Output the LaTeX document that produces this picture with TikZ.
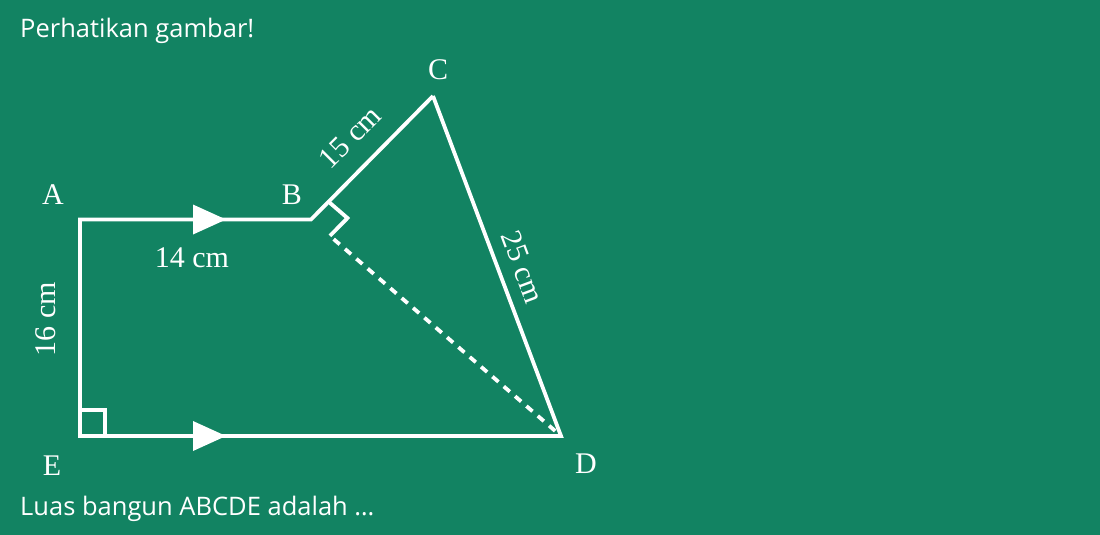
\documentclass[tikz,border=0pt]{standalone}
\usepackage{fontspec}
\setmainfont{Liberation Serif}
\newfontfamily\uisans{Open Sans}
\usetikzlibrary{calc}
\definecolor{bggreen}{RGB}{18,131,98}
\tikzset{
  edge/.style={white, line width=3.8pt, line join=miter},
  dotline/.style={white, line width=3.8pt, dash pattern=on 8pt off 7pt},
  ptlabel/.style={white, font=\fontsize{30}{30}\selectfont, anchor=base, inner sep=0pt},
  lenlabel/.style={white, font=\fontsize{30}{30}\selectfont, inner sep=0pt},
  headtext/.style={white, font=\uisans\fontsize{25.5}{25.5}\selectfont, anchor=base west, inner sep=0pt},
  arrowhead/.style={fill=white, draw=none}
}
\begin{document}
\begin{tikzpicture}[x=1pt,y=-1pt]
\fill[bggreen] (0,0) rectangle (1100,535);
\useasboundingbox (0,0) rectangle (1100,535);
% vertices
\coordinate (A) at (80,219.5);
\coordinate (B) at (311,219.5);
\coordinate (C) at (433,96);
\coordinate (D) at (561,436);
\coordinate (E) at (80,436);
% right angle at B
\coordinate (Bu) at ($(B)!25pt!(C)$);
\coordinate (Bv) at ($(B)!25pt!(D)$);
\coordinate (Bw) at ($(Bu)+(Bv)-(B)$);
% dotted diagonal
\draw[dotline] ($(Bv)!5pt!(D)$) -- (D);
% polygon
\draw[edge] (C) -- (D) -- (E) -- (A) -- (B) -- (C);
\draw[edge] (Bu) -- (Bw) -- (Bv);
% right angle at E
\draw[edge] (80,410) -- (105,410) -- (105,436);
% arrowheads
\coordinate (mAB) at (209,219.5);
\coordinate (mED) at (209,436);
\fill[arrowhead] ($(mAB)+(-16,-15)$) -- ($(mAB)+(17,0)$) -- ($(mAB)+(-16,15)$) -- cycle;
\fill[arrowhead] ($(mED)+(-16,-15)$) -- ($(mED)+(17,0)$) -- ($(mED)+(-16,15)$) -- cycle;
% point labels
\node[ptlabel] (lA) at (53,204) {A};
\node[ptlabel] (lB) at (292,204) {B};
\node[ptlabel] (lC) at (438,80) {C};
\node[ptlabel] (lD) at (586,473) {D};
\node[ptlabel] (lE) at (52,475) {E};
% length labels
\node[ptlabel] (l14) at (192,267) {14 cm};
\node[lenlabel, rotate=90] (l16) at (46,319) {16 cm};
\node[lenlabel, rotate=45] (l15) at (350,137) {15 cm};
\node[lenlabel, rotate=-69.6] (l25) at (523,267) {25 cm};
% texts
\node[headtext] (t1) at (20,38) {Perhatikan gambar!};
\node[headtext] (t2) at (20,515) {Luas bangun ABCDE adalah \ldots};
\end{tikzpicture}
\end{document}
